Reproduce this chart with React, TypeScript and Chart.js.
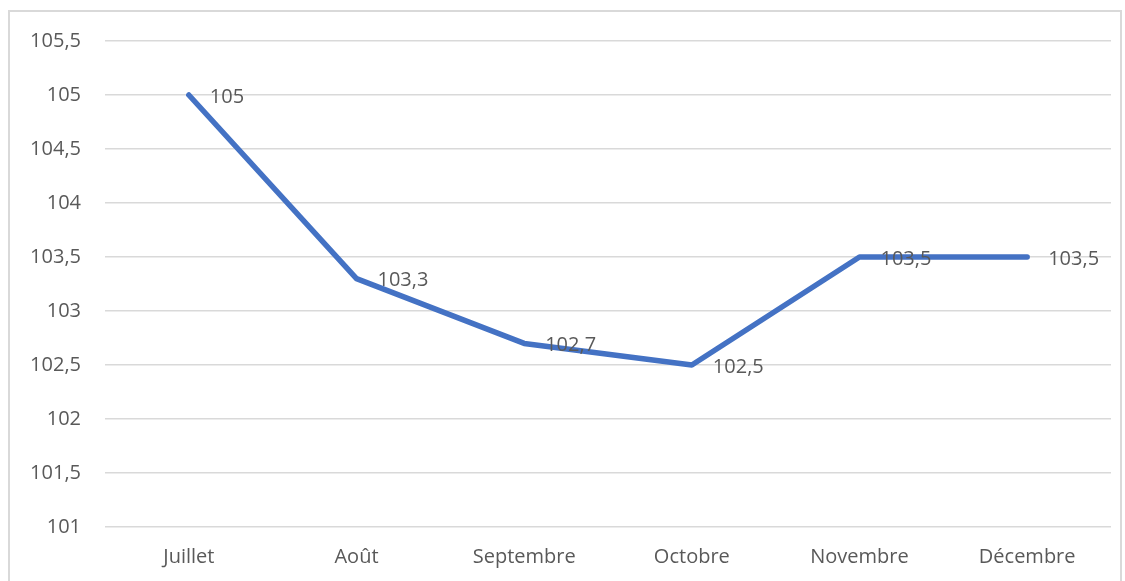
import React, { useEffect, useRef } from "react";
import { Chart, registerables } from "chart.js";

Chart.register(...registerables);

const categories = ["Juillet", "Août", "Septembre", "Octobre", "Novembre", "Décembre"];
const values = [105, 103.3, 102.7, 102.5, 103.5, 103.5];
const yMin = 101;
const yMax = 105.5;
const yStep = 0.5;

const FONT = "'Open Sans', 'Noto Sans', sans-serif";
const TEXT = "#595959";

const fmt = (v: number) => String(v).replace(".", ",");

const frame = {
  id: "frame",
  beforeDraw(chart: any) {
    const { ctx } = chart;
    ctx.save();
    ctx.fillStyle = "#ffffff";
    ctx.fillRect(0, 0, chart.width, chart.height);
    ctx.strokeStyle = "#d9d9d9";
    ctx.lineWidth = 2;
    ctx.strokeRect(9, 11, 1112, 590);
    ctx.restore();
  },
};

const labels = {
  id: "dataLabels",
  afterDatasetsDraw(chart: any) {
    const { ctx } = chart;
    const meta = chart.getDatasetMeta(0);
    ctx.save();
    ctx.font = `20px ${FONT}`;
    ctx.fillStyle = TEXT;
    ctx.textAlign = "left";
    ctx.textBaseline = "middle";
    meta.data.forEach((pt: any, i: number) => {
      ctx.fillText(fmt(values[i]), pt.x + 21, pt.y + 2);
    });
    ctx.restore();
  },
};

export default function App() {
  const ref = useRef<HTMLCanvasElement>(null);
  useEffect(() => {
    if (!ref.current) return;
    const chart = new Chart(ref.current, {
      type: "line",
      data: {
        labels: categories,
        datasets: [
          {
            data: values,
            borderColor: "#4472C4",
            borderWidth: 5.5,
            borderCapStyle: "round",
            borderJoinStyle: "round",
            pointRadius: 0,
            tension: 0,
            fill: false,
          },
        ],
      },
      options: {
        responsive: false,
        animation: false,
        layout: { padding: { left: 0, right: 14, top: 41, bottom: 0 } },
        plugins: { legend: { display: false }, tooltip: { enabled: false } },
        scales: {
          x: {
            offset: true,
            grid: { display: false, drawTicks: false },
            border: { display: false },
            ticks: { color: TEXT, font: { family: FONT, size: 20 }, padding: 18, maxRotation: 0 },
            afterFit: (s: any) => {
              s.height = 54;
            },
          },
          y: {
            min: yMin,
            max: yMax,
            grid: { color: "#d9d9d9", lineWidth: 1.5, drawTicks: false },
            border: { display: false },
            ticks: {
              stepSize: yStep,
              color: TEXT,
              font: { family: FONT, size: 20 },
              padding: 24,
              callback: (v: any) => fmt(Number(v)),
            },
            afterFit: (s: any) => {
              s.width = 105;
            },
          },
        },
      },
      plugins: [frame, labels],
    });
    return () => chart.destroy();
  }, []);
  return (
    <div style={{ position: "fixed", left: 0, top: 0, width: 1125, height: 581 }}>
      <canvas ref={ref} width={1125} height={581} style={{ display: "block" }} />
    </div>
  );
}
